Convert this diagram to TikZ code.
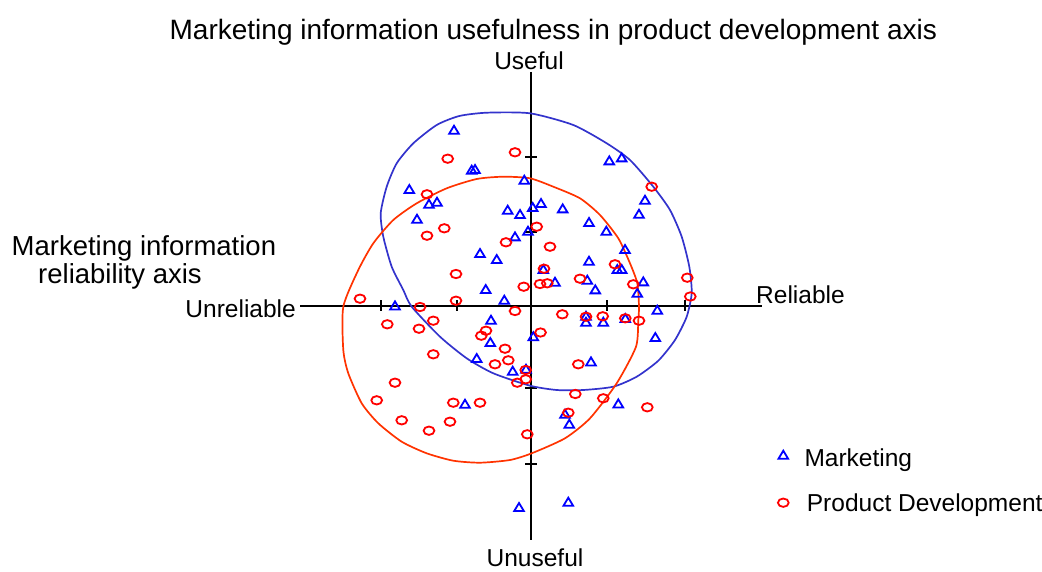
\documentclass[tikz,border=0pt]{standalone}
\usepackage{fontspec}
\setmainfont{Liberation Sans}
\begin{document}
\begin{tikzpicture}[x=1pt,y=-1pt,
  lbl/.style={inner sep=0pt, font=\fontsize{24.5}{28}\selectfont},
  axisline/.style={line width=1.8pt, black},
  tickline/.style={line width=1.8pt, black},
  bluecurve/.style={line width=1.7pt, draw={rgb,255:red,51;green,51;blue,204}},
  redcurve/.style={line width=1.7pt, draw={rgb,255:red,255;green,51;blue,0}},
  mkblue/.style={line width=1.8pt, draw={rgb,255:red,0;green,0;blue,255}, line join=miter},
  mkred/.style={line width=1.8pt, draw={rgb,255:red,255;green,0;blue,0}}]
\useasboundingbox (0,0) rectangle (1042,572);
% title and labels
\node[inner sep=0pt, anchor=base, font=\fontsize{28}{32}\selectfont] (title) at (553.3,39.3) {Marketing information usefulness in product development axis};
\node[lbl, anchor=base] (useful) at (529,69.3) {Useful};
\node[lbl, anchor=base] (unuseful) at (535,566.7) {Unuseful};
\node[lbl, anchor=base east] (unrel) at (296,317) {Unreliable};
\node[lbl, anchor=base west] (rel) at (756,304) {Reliable};
\node[inner sep=0pt, anchor=base west, font=\fontsize{27.5}{31}\selectfont] (lefta) at (11.5,256) {Marketing information};
\node[inner sep=0pt, anchor=base west, font=\fontsize{27.5}{31}\selectfont] (leftb) at (38,283.3) {reliability axis};
% axes
\coordinate (xl) at (300,306);
\coordinate (xr) at (762,306);
\coordinate (yt) at (531,72);
\coordinate (yb) at (531,540);
\draw[axisline] (xl) -- (xr);
\draw[axisline] (yt) -- (yb);
\foreach \tx in {381,457,607,685} \draw[tickline] (\tx,300) -- (\tx,311);
\foreach \ty in {157,232,388,464} \draw[tickline] (525,\ty) -- (537,\ty);
% curves
\draw[bluecurve] plot[smooth cycle, tension=0.4] coordinates {
(530,113.3) (573.3,125) (606.7,143.3) (630,160) (653.3,186.7) (670,210) (681.7,236.7) (689.3,266.7) (691.7,293) (686.7,316.7) (675,340) (658.3,360.7) (636.7,376.7) (613.3,386.7) (583.3,390) (556.7,390) (530,385.7) (493.3,373.3) (466.7,358.3) (440,336.7) (411.7,306.7) (403.3,290) (391.7,266.7) (383.3,236.7) (380.7,213.3) (386.7,186.7) (396.7,163.3) (413.3,143.3) (436.7,125) (459.3,116) (486.7,112.7)};
\draw[redcurve] plot[smooth cycle, tension=0.4] coordinates {
(503.3,176.7) (530,178.3) (553.3,186.7) (580,198.3) (600,215) (618.3,238.3) (630,263.3) (637.3,283.3) (639,306.7) (638.3,320) (636,346.7) (616.7,383.3) (590,418.3) (565,438.3) (531.7,453.3) (510,460) (480,462.7) (453.3,460.7) (426.7,453.3) (401.7,441.7) (378.3,423.3) (361.7,403.3) (348.3,373.3) (343.3,350) (343.3,306.7) (358.3,270) (373.3,243.3) (393.3,220) (416.7,203.3) (446.7,188.3) (476.7,179)};
% marketing (triangles)
\foreach \px/\py in {454/130, 471.7/170, 475/169.3, 524.3/180, 409.3/189.3, 429/204, 437/202, 417/219, 507.7/210, 520/214.3, 532.7/207.3, 541/203.3, 515/236.7, 528/231, 480/253.3, 496.7/259.3, 485.7/289.3, 504.3/300, 395/305.7, 609.3/160.7, 621.7/157.7, 562.7/208.7, 645/200, 639/214, 589/222.3, 606.3/231, 625/249.3, 589/261, 543.3/269.3, 617.3/269.3, 621.7/269.3, 555/282, 587.3/280, 595.3/289.7, 643.3/281.7, 637.3/293, 657.3/310, 491/320, 490.3/342.3, 533.3/336.5, 476.7/358.3, 512.7/371, 526/369, 465/404, 519/507.3, 586/316, 586/322, 603.3/322, 625.3/318.3, 655.3/337.3, 591/361.7, 618.3/403.7, 565/414, 569.3/424, 568.3/502}
  \draw[mkblue] (\px,\py) ++(-4.8,3.7) -- ++(9.6,0) -- ++(-4.8,-8) -- cycle;
% product development (circles)
\foreach \px/\py in {515/152.3, 447.7/158.7, 427/194.3, 444.3/228.3, 427/235.7, 506/242.3, 456/274, 523.7/286.7, 360/298.7, 456/300.7, 420/307, 536.7/226.7, 540/284, 547.3/283.3, 515/311, 651.7/186.7, 550/246.7, 544/268.7, 615/264.3, 580/278.7, 633.3/284.3, 687.3/277.7, 690.3/296.5, 387.3/324.3, 419/328.7, 433.3/320.7, 486/330.7, 481.3/335.7, 540.5/332.5, 433.3/354.3, 505/348.7, 508.3/360.3, 495/364.3, 525.7/370, 525.7/379.3, 517.3/382.7, 395/382.7, 376.7/400.3, 453.3/402.7, 480/402.7, 401.7/420.3, 450/421.7, 429/430.7, 527.3/434.3, 562.3/314.3, 586/316.7, 602.7/316.3, 625.3/318.3, 639/320.7, 578.3/364.3, 575.3/394, 603.3/398.3, 647.3/407.3, 568.3/412.7}
  \draw[mkred] (\px,\py) ellipse [x radius=5.4pt, y radius=4.2pt];
% legend
\coordinate (legtri) at (783.3,455);
\draw[mkblue] (legtri) ++(-4.8,3.7) -- ++(9.6,0) -- ++(-4.8,-8) -- cycle;
\node[lbl, anchor=base west] (legmk) at (804.3,466) {Marketing};
\coordinate (legcirc) at (783.3,502.7);
\draw[mkred] (legcirc) ellipse [x radius=5.4pt, y radius=4.2pt];
\node[lbl, anchor=base west] (legpd) at (806.7,511.7) {Product Development};
\end{tikzpicture}
\end{document}
